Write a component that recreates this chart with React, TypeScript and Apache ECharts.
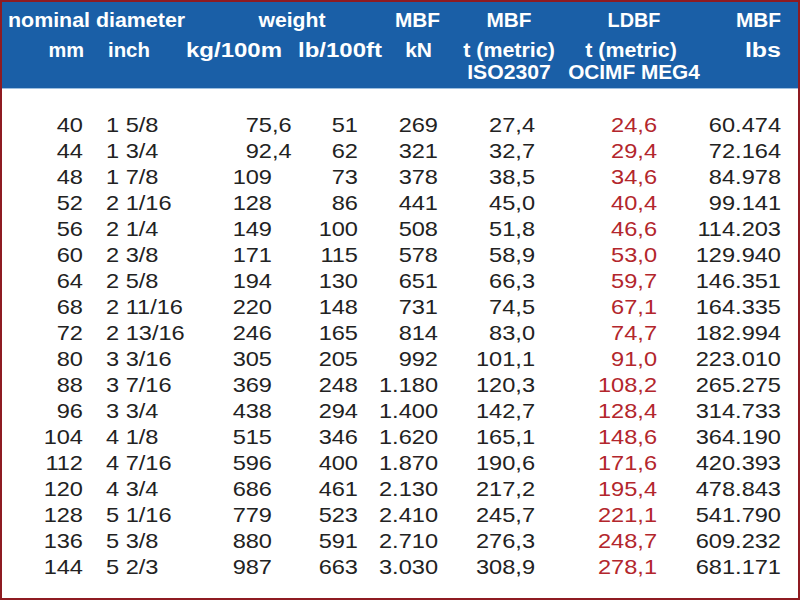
import React, { useEffect, useRef } from "react";
import * as echarts from "echarts";

// ---- data ----
const mm = [40, 44, 48, 52, 56, 60, 64, 68, 72, 80, 88, 96, 104, 112, 120, 128, 136, 144];
const inch = ["1 5/8", "1 3/4", "1 7/8", "2 1/16", "2 1/4", "2 3/8", "2 5/8", "2 11/16", "2 13/16", "3 3/16", "3 7/16", "3 3/4", "4 1/8", "4 7/16", "4 3/4", "5 1/16", "5 3/8", "5 2/3"];
const kgPer100m = [75.6, 92.4, 109, 128, 149, 171, 194, 220, 246, 305, 369, 438, 515, 596, 686, 779, 880, 987];
const lbPer100ft = [51, 62, 73, 86, 100, 115, 130, 148, 165, 205, 248, 294, 346, 400, 461, 523, 591, 663];
const mbfKN = [269, 321, 378, 441, 508, 578, 651, 731, 814, 992, 1180, 1400, 1620, 1870, 2130, 2410, 2710, 3030];
const mbfTonIso = [27.4, 32.7, 38.5, 45.0, 51.8, 58.9, 66.3, 74.5, 83.0, 101.1, 120.3, 142.7, 165.1, 190.6, 217.2, 245.7, 276.3, 308.9];
const ldbfTonOcimf = [24.6, 29.4, 34.6, 40.4, 46.6, 53.0, 59.7, 67.1, 74.7, 91.0, 108.2, 128.4, 148.6, 171.6, 195.4, 221.1, 248.7, 278.1];
const mbfLbs = [60474, 72164, 84978, 99141, 114203, 129940, 146351, 164335, 182994, 223010, 265275, 314733, 364190, 420393, 478843, 541790, 609232, 681171];

const headerRow1 = ["nominal diameter", "weight", "MBF", "MBF", "LDBF", "MBF"];
const headerRow2 = ["mm", "inch", "kg/100m", "lb/100ft", "kN", "t (metric)", "t (metric)", "lbs"];
const headerRow3 = ["ISO2307", "OCIMF MEG4"];

// ---- formatting ----
const dec1 = (v: number) => v.toFixed(1).replace(".", ",");
const thousands = (v: number) => String(v).replace(/\B(?=(\d{3})+(?!\d))/g, ".");
const maybeDec = (v: number) => (Number.isInteger(v) ? String(v) : dec1(v));

// ---- styles ----
const BLUE = "#1a5fa7";
const INK = "#222222";
const RED = "#b3262c";
const BORDER = "#8e1b22";
const DATA_FONT = "Liberation Sans";
const DATA_SIZE = 20;
const DATA_SCALE = 1.18;
const HEAD_SIZE = 20;

type Col = { x: number; align: "left" | "right"; color: string; text: (i: number) => string; split?: boolean };
const COLUMNS: Col[] = [
  { x: 83, align: "right", color: INK, text: (i) => String(mm[i]) },
  { x: 106, align: "left", color: INK, text: (i) => inch[i] },
  { x: 272, align: "right", color: INK, text: (i) => maybeDec(kgPer100m[i]), split: true },
  { x: 358, align: "right", color: INK, text: (i) => String(lbPer100ft[i]) },
  { x: 438, align: "right", color: INK, text: (i) => thousands(mbfKN[i]) },
  { x: 535, align: "right", color: INK, text: (i) => dec1(mbfTonIso[i]) },
  { x: 657, align: "right", color: RED, text: (i) => dec1(ldbfTonOcimf[i]) },
  { x: 781, align: "right", color: INK, text: (i) => thousands(mbfLbs[i]) },
];

function headText(text: string, x: number, y: number, align: string, scaleX: number) {
  return {
    type: "text",
    x,
    y,
    scaleX,
    style: {
      text,
      fill: "#ffffff",
      fontFamily: "Liberation Sans",
      fontWeight: "bold",
      fontSize: HEAD_SIZE,
      align,
      verticalAlign: "middle",
    },
  };
}

export default function App() {
  const ref = useRef<HTMLDivElement>(null);
  useEffect(() => {
    if (!ref.current) return;
    const chart = echarts.init(ref.current, undefined, { renderer: "svg" });
    const r1y = 20, r2y = 50, r3y = 72;
    const option: any = {
      animation: false,
      backgroundColor: "#ffffff",
      grid: { left: 0, right: 0, top: 112, bottom: 20 },
      xAxis: { type: "value", min: 0, max: 800, show: false },
      yAxis: { type: "category", inverse: true, data: mm.map(String), show: false },
      graphic: [
        { type: "rect", shape: { x: 0, y: 0, width: 800, height: 88 }, style: { fill: BLUE }, z: 0 },
        { type: "rect", shape: { x: 0, y: 88, width: 800, height: 1 }, style: { fill: "#9dbfe0" }, z: 0 },
        headText(headerRow1[0], 8, r1y, "left", 1.07),
        headText(headerRow1[1], 292, r1y, "center", 1.06),
        headText(headerRow1[2], 440, r1y, "right", 1.04),
        headText(headerRow1[3], 509, r1y, "center", 1.04),
        headText(headerRow1[4], 634, r1y, "center", 0.99),
        headText(headerRow1[5], 781, r1y, "right", 1.04),
        headText(headerRow2[0], 84, r2y, "right", 1.0),
        headText(headerRow2[1], 108, r2y, "left", 1.02),
        headText(headerRow2[2], 282, r2y, "right", 1.2),
        headText(headerRow2[3], 382, r2y, "right", 1.2),
        headText(headerRow2[4], 432, r2y, "right", 1.05),
        headText(headerRow2[5], 509, r2y, "center", 1.07),
        headText(headerRow2[6], 631, r2y, "center", 1.07),
        headText(headerRow2[7], 781, r2y, "right", 1.25),
        headText(headerRow3[0], 509, r3y, "center", 1.06),
        headText(headerRow3[1], 634, r3y, "center", 1.04),
        {
          type: "rect",
          shape: { x: 1, y: 1, width: 798, height: 598 },
          style: { fill: "none", stroke: BORDER, lineWidth: 2 },
          z: 10,
        },
      ],
      series: [
        {
          type: "custom",
          coordinateSystem: "cartesian2d",
          data: mm.map((_, i) => [0, i]),
          renderItem: (params: any, api: any) => {
            const i = params.dataIndex;
            const children: any[] = [];
            COLUMNS.forEach((col) => {
              const [x, y] = api.coord([col.x, i]);
              const t = col.text(i);
              const base = {
                fill: col.color,
                fontFamily: DATA_FONT,
                fontSize: DATA_SIZE,
                verticalAlign: "middle",
              };
              if (col.split && t.includes(",")) {
                const [a, b] = t.split(",");
                children.push({ type: "text", x, y, scaleX: DATA_SCALE, style: { ...base, text: a, align: "right" } });
                children.push({ type: "text", x, y, scaleX: DATA_SCALE, style: { ...base, text: "," + b, align: "left" } });
              } else {
                children.push({ type: "text", x, y, scaleX: DATA_SCALE, style: { ...base, text: t, align: col.align } });
              }
            });
            return { type: "group", children };
          },
        },
      ],
    };
    chart.setOption(option);
    return () => chart.dispose();
  }, []);
  return <div ref={ref} style={{ position: "fixed", left: 0, top: 0, width: 800, height: 600 }} />;
}
